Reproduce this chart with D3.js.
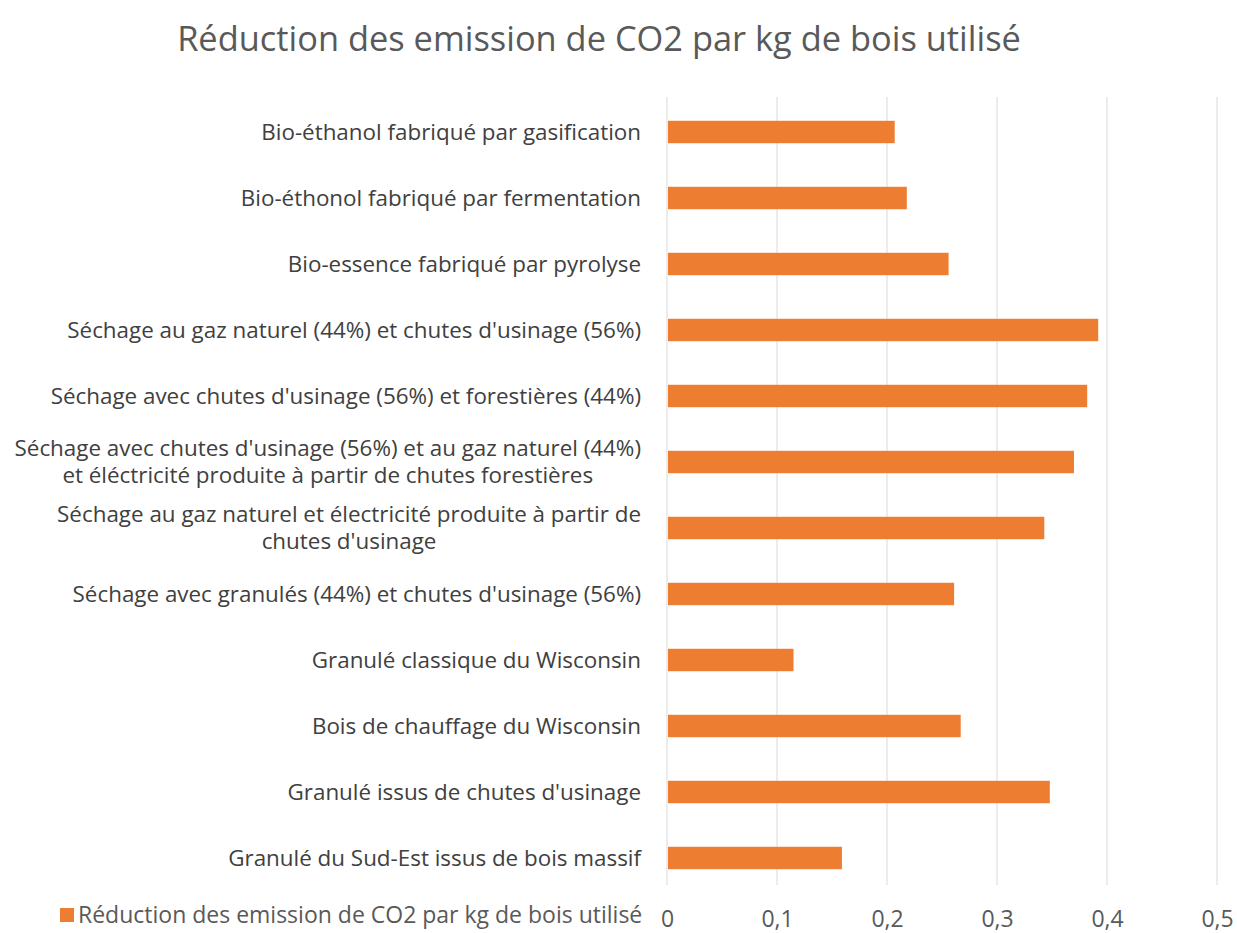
<!DOCTYPE html>
<html>
<head>
<meta charset="utf-8">
<script src="https://cdn.jsdelivr.net/npm/d3@7"></script>
<style>
  body { margin: 0; background: #fff; }
  text { font-family: "Open Sans", sans-serif; }
</style>
</head>
<body>
<div id="wrapper"></div>
<script>
// categories (top to bottom), line breaks with \n
const categories = [
    "Bio-éthanol fabriqué par gasification",
    "Bio-éthonol fabriqué par fermentation",
    "Bio-essence fabriqué par pyrolyse",
    "Séchage au gaz naturel (44%) et chutes d'usinage (56%)",
    "Séchage avec chutes d'usinage (56%) et forestières (44%)",
    "Séchage avec chutes d'usinage (56%) et au gaz naturel (44%)\net éléctricité produite à partir de chutes forestières",
    "Séchage au gaz naturel et électricité produite à partir de\nchutes d'usinage",
    "Séchage avec granulés (44%) et chutes d'usinage (56%)",
    "Granulé classique du Wisconsin",
    "Bois de chauffage du Wisconsin",
    "Granulé issus de chutes d'usinage",
    "Granulé du Sud-Est issus de bois massif"
];
const values = [0.207, 0.218, 0.256, 0.392, 0.382, 0.370, 0.343, 0.261, 0.115, 0.267, 0.348, 0.159];
const xTicks = [0, 0.1, 0.2, 0.3, 0.4, 0.5];
const tickLabels = ["0", "0,1", "0,2", "0,3", "0,4", "0,5"];
const title = "Réduction des emission de CO2 par kg de bois utilisé";
const seriesName = "Réduction des emission de CO2 par kg de bois utilisé";

const dimention = {
    width: 1237,
    height: 933,
    margin: { top: 99, left: 667, bottom: 42, right: 20 }
};
dimention.boundedWidth = 1217 - dimention.margin.left;
dimention.boundedHeight = 891 - dimention.margin.top;

const svg = d3.select("#wrapper").append("svg")
    .attr("width", dimention.width)
    .attr("height", dimention.height);

const bounded = svg.append("g")
    .attr("transform", `translate(${dimention.margin.left},${dimention.margin.top})`);

const xScaler = d3.scaleLinear()
    .domain([0, 0.5])
    .range([0, dimention.boundedWidth]);

const yScaler = d3.scaleBand()
    .domain(categories)
    .range([0, dimention.boundedHeight])
    .paddingInner(0.66)
    .paddingOuter(0.33);

// gridlines
bounded.append("g")
    .selectAll("line")
    .data(xTicks)
    .join("line")
    .attr("x1", d => xScaler(d))
    .attr("x2", d => xScaler(d))
    .attr("y1", -2)
    .attr("y2", dimention.boundedHeight - 6)
    .attr("stroke", "#d9d9d9")
    .attr("stroke-width", 1);

// bars
bounded.append("g")
    .selectAll("rect")
    .data(values)
    .join("rect")
    .attr("x", xScaler(0) + 1)
    .attr("y", (d, i) => yScaler(categories[i]))
    .attr("width", d => xScaler(d) - xScaler(0) - 1)
    .attr("height", yScaler.bandwidth())
    .attr("fill", "#ed7d31");

// x axis labels
const xAxis = d3.axisBottom(xScaler)
    .tickValues(xTicks)
    .tickFormat((d, i) => tickLabels[i])
    .tickSize(0)
    .tickPadding(0);
const xAxisG = bounded.append("g")
    .attr("transform", `translate(0,${dimention.boundedHeight + 20})`)
    .call(xAxis);
xAxisG.select(".domain").remove();
xAxisG.selectAll("text")
    .attr("fill", "#595959")
    .style("font-size", "23px")
    .style("font-family", "'Open Sans', sans-serif");

// y labels: block right-aligned, lines centered with each other
const labelRight = 641;
const lineH = 27;
const labelG = svg.append("g");
categories.forEach((c, i) => {
    const lines = c.split("\n");
    const cy = dimention.margin.top + yScaler(c) + yScaler.bandwidth() / 2;
    const g = labelG.append("g");
    const texts = lines.map((l, j) => g.append("text")
        .text(l)
        .attr("y", cy + (j - (lines.length - 1) / 2) * lineH)
        .attr("dy", "0.35em")
        .attr("fill", "#404040")
        .style("font-size", "22.4px"));
    const maxW = d3.max(texts, t => t.node().getComputedTextLength());
    texts.forEach(t => t.attr("x", labelRight - maxW / 2).attr("text-anchor", "middle"));
});

// title
svg.append("text")
    .attr("x", 599)
    .attr("y", 51)
    .attr("text-anchor", "middle")
    .attr("fill", "#595959")
    .style("font-size", "34.4px")
    .text(title);

// legend
svg.append("rect")
    .attr("x", 60)
    .attr("y", 908)
    .attr("width", 14)
    .attr("height", 14)
    .attr("fill", "#ed7d31");
svg.append("text")
    .attr("x", 78)
    .attr("y", 915)
    .attr("dy", "0.35em")
    .attr("fill", "#595959")
    .style("font-size", "23px")
    .text(seriesName);
</script>
</body>
</html>
